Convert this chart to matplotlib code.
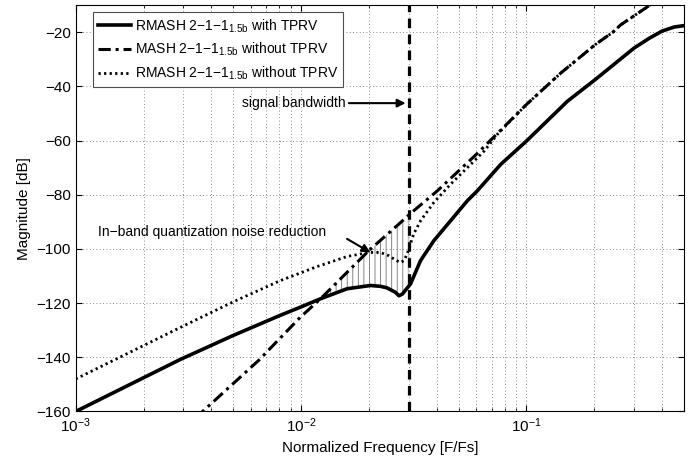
import numpy as np
import matplotlib
matplotlib.use('Agg')
import matplotlib.pyplot as plt

plt.rcParams['font.family'] = ['Liberation Sans', 'DejaVu Sans']
plt.rcParams['mathtext.fontset'] = 'custom'
plt.rcParams['mathtext.rm'] = 'Liberation Sans'
plt.rcParams['mathtext.it'] = 'Liberation Sans:italic'
plt.rcParams['hatch.linewidth'] = 0.6
plt.rcParams['axes.unicode_minus'] = True

# ---- data ----
solid_f = [0.001, 0.00291, 0.00501, 0.00809, 0.00993, 0.0122, 0.0160, 0.0203, 0.0225,
           0.0241, 0.0262, 0.0272, 0.0282, 0.0292, 0.0306, 0.0339, 0.0388, 0.0547,
           0.0605, 0.0769, 0.100, 0.152, 0.202, 0.300, 0.350, 0.400, 0.453, 0.500]
solid_db = [-160, -140.8, -131.9, -124.5, -121.5, -118.4, -114.7, -113.5, -113.8,
            -114.4, -116.0, -117.3, -116.6, -115.0, -112.9, -104.3, -97.0, -82.2,
            -78.6, -68.8, -60.2, -45.5, -37.5, -25.9, -22.3, -19.6, -18.1, -17.6]

mash_f = [0.00339, 0.00649, 0.00993, 0.0122, 0.0200, 0.0277, 0.0304, 0.0402, 0.0610,
          0.100, 0.142, 0.202, 0.242, 0.262, 0.345, 0.36]
mash_db = [-162.5, -141.1, -125.2, -118.4, -100.6, -90.2, -87.1, -78.6, -64.5,
           -46.7, -35.1, -24.6, -20.0, -17.3, -10.6, -9.5]

rmash_f = [0.001, 0.00291, 0.00501, 0.00809, 0.0118, 0.0160, 0.0200, 0.0225, 0.0245,
           0.0265, 0.0277, 0.0286, 0.0296, 0.0316, 0.0339, 0.0388, 0.0461, 0.0547,
           0.0649, 0.0743, 0.100, 0.142, 0.202, 0.242, 0.262, 0.345, 0.36]
rmash_db = [-148, -129.0, -119.5, -111.7, -106.5, -102.8, -101.3, -101.3, -102.5,
            -104.3, -105.0, -104.3, -101.8, -94.5, -89.6, -82.9, -76.1, -70.0,
            -63.9, -57.7, -46.7, -35.1, -24.6, -20.0, -17.3, -10.6, -9.5]

bandwidth = 0.03
labels = ['RMASH 2\u22121\u22121$_{\\mathregular{1.5b}}$ with TPRV',
          'MASH 2\u22121\u22121$_{\\mathregular{1.5b}}$ without TPRV',
          'RMASH 2\u22121\u22121$_{\\mathregular{1.5b}}$ without TPRV']
yticks = [-160, -140, -120, -100, -80, -60, -40, -20]

# ---- figure ----
fig = plt.figure(figsize=(6.97, 4.59), dpi=100)
ax = fig.add_axes([0.1086, 0.1035, 0.8727, 0.8855])

ax.semilogx(solid_f, solid_db, color='black', lw=2.6, label=labels[0], zorder=4)
ax.semilogx(mash_f, mash_db, color='black', lw=2.2, linestyle=(0, (4, 1.6, 1, 1.6)), label=labels[1], zorder=4)
ax.semilogx(rmash_f, rmash_db, color='black', lw=2.0, linestyle=(0, (0.8, 1.2)), label=labels[2], zorder=4)

# hatched reduction region between MASH (upper) and RMASH with TPRV (lower)
grid = np.logspace(np.log10(0.0110), np.log10(bandwidth), 300)
upper = np.interp(np.log10(grid), np.log10(mash_f), mash_db)
lower = np.interp(np.log10(grid), np.log10(solid_f), solid_db)
ax.fill_between(grid, lower, upper, where=upper >= lower, interpolate=True,
                facecolor='none', edgecolor='0.45', hatch='|||', linewidth=0, zorder=2)

ax.axvline(bandwidth, color='black', lw=2.3, linestyle=(0, (3, 2)), zorder=5)

ax.set_xlim(1e-3, 0.5)
ax.set_ylim(-160, -10)
ax.set_yticks(yticks)
ax.grid(True, which='major', axis='both', color='0.4', linestyle=(0, (1, 3)), lw=0.6)
ax.grid(True, which='minor', axis='x', color='0.4', linestyle=(0, (1, 3)), lw=0.6)
ax.tick_params(which='both', direction='in', top=True, right=True, labelsize=11)
ax.tick_params(which='major', length=4)
ax.tick_params(which='minor', length=2)
for s in ax.spines.values():
    s.set_linewidth(0.8)

ax.set_xlabel('Normalized Frequency [F/Fs]', fontsize=11)
ax.set_ylabel('Magnitude [dB]', fontsize=11)

leg = ax.legend(loc='upper left', bbox_to_anchor=(0.028, 0.982), fontsize=10,
                fancybox=False, framealpha=1, edgecolor='0.3', handlelength=2.4,
                handletextpad=0.3, borderpad=0.35, labelspacing=0.45, borderaxespad=0)
leg.get_frame().set_linewidth(0.8)

arrow_kw = dict(arrowstyle='-|>', color='black', lw=1.5, mutation_scale=12, shrinkA=0, shrinkB=0)
ax.annotate('', xy=(0.0203, -101.3), xytext=(0.0160, -96.3), arrowprops=arrow_kw, zorder=6)
ax.text(0.00126, -93.9, 'In\u2212band quantization noise reduction', fontsize=10,
        ha='left', va='center')
ax.annotate('', xy=(0.0291, -46.2), xytext=(0.0163, -46.2), arrowprops=arrow_kw, zorder=6)
ax.text(0.0157, -46.2, 'signal bandwidth', fontsize=10, ha='right', va='center')

fig.savefig('out.png', dpi=100)
